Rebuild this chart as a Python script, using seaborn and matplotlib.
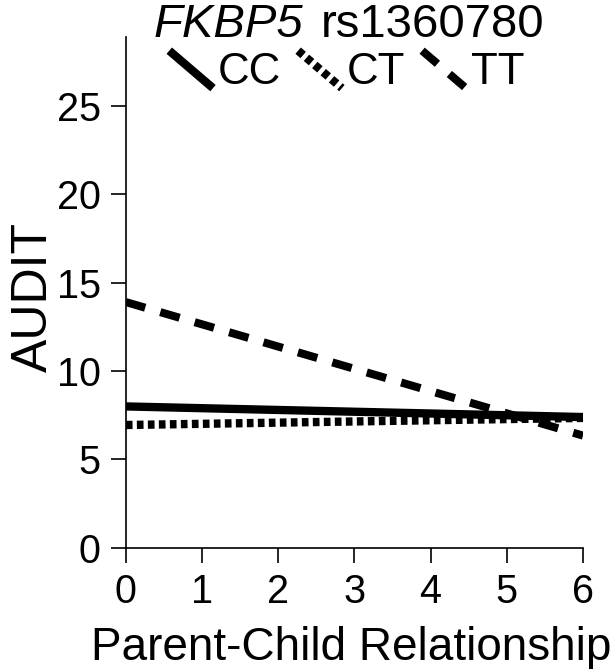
import pandas as pd
import seaborn as sns
import matplotlib.pyplot as plt
from matplotlib.lines import Line2D
from matplotlib.legend_handler import HandlerLine2D

# Values
x_values = [0, 6]
cc_values = [8.0, 7.4]
ct_values = [6.95, 7.35]
tt_values = [13.9, 6.35]
genotypes = ["CC", "CT", "TT"]
x_ticks = [0, 1, 2, 3, 4, 5, 6]
y_ticks = [0, 5, 10, 15, 20, 25]

df = pd.DataFrame({
    "Parent-Child Relationship": x_values * 3,
    "AUDIT": cc_values + ct_values + tt_values,
    "Genotype": [g for g in genotypes for _ in x_values],
})

sns.set_style("ticks")
plt.rcParams["font.family"] = ["Liberation Sans", "DejaVu Sans"]
for key in ["text.color", "axes.labelcolor", "xtick.color", "ytick.color",
            "axes.edgecolor"]:
    plt.rcParams[key] = "black"


class DiagonalHandler(HandlerLine2D):
    # legend keys drawn as a line going down to the right
    def create_artists(self, legend, orig_handle, xdescent, ydescent,
                       width, height, fontsize, trans):
        x0, y0 = -xdescent, -ydescent
        line = Line2D([x0, x0 + width], [y0 + height, y0])
        self.update_prop(line, orig_handle, legend)
        line.set_transform(trans)
        return [line]


fig = plt.figure(figsize=(6.14, 6.69), dpi=100)
ax = fig.add_axes([0.205, 0.181, 0.7445, 0.764])

widths = {"CC": 6.0, "CT": 6.0, "TT": 5.8}
dashes = {"CC": "", "CT": (0.8, 0.52), "TT": (2.5, 1.95)}

sns.lineplot(data=df, x="Parent-Child Relationship", y="AUDIT",
             hue="Genotype", style="Genotype",
             palette=["black"] * 3, dashes=dashes,
             legend=False, ax=ax)

for line, g in zip(ax.lines, genotypes):
    line.set_linewidth(widths[g])
    line.set_dash_capstyle("butt")
    line.set_solid_capstyle("butt")

ax.set_xlim(0, 6)
ax.set_ylim(0, 28.9)
ax.set_xticks(x_ticks)
ax.set_yticks(y_ticks)
ax.tick_params(labelsize=28.5, length=11, width=1.2, pad=7)
for side in ["left", "bottom"]:
    ax.spines[side].set_linewidth(1.2)
sns.despine(ax=ax)

ax.set_xlabel("Parent-Child Relationship", fontsize=33)
ax.xaxis.set_label_coords(0.4935, -0.219)
ax.xaxis.label.set_va("baseline")
ax.set_ylabel("AUDIT", fontsize=36)
ax.yaxis.set_label_coords(-0.151, 0.49)

# title: italic gene name followed by the SNP id, baseline on the axes top
ax.text(0.387, 1.0, "FKBP5", style="italic", fontsize=34,
        ha="right", va="baseline", transform=ax.transAxes)
ax.text(0.4267, 1.0, "rs1360780", fontsize=34,
        ha="left", va="baseline", transform=ax.transAxes)

handles = [Line2D([], [], color="black", linewidth=widths[g],
                  dashes=dashes[g] if dashes[g] else (None, None),
                  linestyle="-", dash_capstyle="butt", solid_capstyle="butt")
           for g in genotypes]
ax.legend(handles, genotypes, loc="center", bbox_to_anchor=(0.4836, 0.931),
          ncol=3, frameon=False, fontsize=31.5, handlelength=1.0,
          handleheight=0.94, handletextpad=0.12, columnspacing=0.38,
          borderaxespad=0, borderpad=0,
          handler_map={Line2D: DiagonalHandler()})

fig.savefig("out.png", dpi=100)
plt.close(fig)
